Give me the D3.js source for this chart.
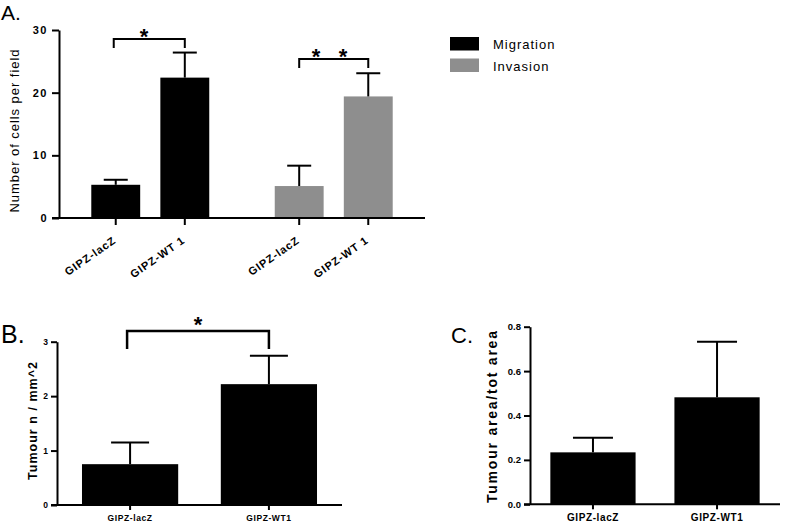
<!DOCTYPE html>
<html><head><meta charset="utf-8">
<script src="https://cdn.jsdelivr.net/npm/d3@7"></script>
<style>body{margin:0;background:#fff}svg{font-family:"Liberation Sans",Arial,sans-serif}</style>
</head><body><svg id="c" width="787" height="525"></svg>
<script>
// Panel A data
const groupsA = ["Migration", "Invasion"];
const catsA = ["GIPZ-lacZ", "GIPZ-WT1"];
const migrationVals = [5.3, 22.4];
const migrationErr = [6.1, 26.4];
const invasionVals = [5.1, 19.4];
const invasionErr = [8.35, 23.1];
const ticksA = [0, 10, 20, 30];
const colorsA = {Migration: "#000000", Invasion: "#8e8e8e"};
// Panel B data
const catsB = ["GIPZ-lacZ", "GIPZ-WT1"];
const valsB = [0.75, 2.22];
const errB = [1.15, 2.74];
const ticksB = [0, 1, 2, 3];
// Panel C data
const catsC = ["GIPZ-lacZ", "GIPZ-WT1"];
const valsC = [0.234, 0.482];
const errC = [0.30, 0.732];
const ticksC = [0, 0.2, 0.4, 0.6, 0.8];

const svg = d3.select("#c");
const SW = 2;

function errBar(g, x, yTop, yErr, cap) {
  g.append("line").attr("x1", x).attr("x2", x).attr("y1", yTop).attr("y2", yErr)
    .attr("stroke", "#000").attr("stroke-width", SW);
  g.append("line").attr("x1", x - cap/2).attr("x2", x + cap/2).attr("y1", yErr).attr("y2", yErr)
    .attr("stroke", "#000").attr("stroke-width", SW);
}
function styleAxis(g) {
  g.selectAll("path.domain").attr("stroke", "#000").attr("stroke-width", SW);
  g.selectAll(".tick line").attr("stroke", "#000").attr("stroke-width", SW);
}

// ---------- Panel A ----------
{
  const y = d3.scaleLinear().domain([0, 30]).range([218, 30]);
  const x0 = d3.scaleBand().domain(groupsA).range([59, 425]).paddingInner(0.357).paddingOuter(0.176);
  const x1 = d3.scaleBand().domain(catsA).range([0, x0.bandwidth()]).paddingInner(0.292).paddingOuter(0);
  const g = svg.append("g");
  const data = [
    {grp: "Migration", vals: migrationVals, errs: migrationErr},
    {grp: "Invasion", vals: invasionVals, errs: invasionErr}
  ];
  data.forEach(d => {
    catsA.forEach((c, i) => {
      const bx = x0(d.grp) + x1(c);
      g.append("rect").attr("x", bx).attr("y", y(d.vals[i])).attr("width", x1.bandwidth())
        .attr("height", y(0) - y(d.vals[i])).attr("fill", colorsA[d.grp]);
      errBar(g, bx + x1.bandwidth()/2, y(d.vals[i]), y(d.errs[i]), 24);
    });
  });
  // y axis
  const ya = g.append("g").attr("transform", "translate(59,0)")
    .call(d3.axisLeft(y).tickValues(ticksA).tickSize(7).tickPadding(4).tickSizeOuter(0));
  styleAxis(ya);
  ya.selectAll("text").attr("font-size", 11).attr("font-weight", "bold").attr("letter-spacing", 1.5).attr("fill", "#000");
  // x axis line with ticks
  const xs = [];
  groupsA.forEach(gr => catsA.forEach(c => xs.push({gr, c, x: x0(gr) + x1(c) + x1.bandwidth()/2})));
  g.append("line").attr("x1", 52).attr("x2", 425).attr("y1", 218).attr("y2", 218).attr("stroke", "#000").attr("stroke-width", SW);
  xs.forEach(t => {
    g.append("line").attr("x1", t.x).attr("x2", t.x).attr("y1", 218).attr("y2", 225).attr("stroke", "#000").attr("stroke-width", SW);
    g.append("text").attr("transform", `translate(${t.x + 1},${242}) rotate(-35)`)
      .attr("text-anchor", "end").attr("font-size", 11).attr("font-weight", "bold").attr("letter-spacing", 0.9)
      .text(t.c.replace("WT1", "WT 1"));
  });
  // y label
  g.append("text").attr("transform", "translate(19,131) rotate(-90)").attr("text-anchor", "middle")
    .attr("font-size", 13).attr("textLength", 163).attr("lengthAdjust", "spacing").text("Number of cells per field");
  // panel letter
  g.append("text").attr("x", 1).attr("y", 20).attr("font-size", 21).text("A.");
  // brackets
  const br = (xa, xb, yTop, legY, stars, starY) => {
    g.append("path").attr("d", `M${xa},${legY}V${yTop}H${xb}V${legY}`).attr("fill", "none")
      .attr("stroke", "#000").attr("stroke-width", SW);
    stars.forEach(sx => g.append("text").attr("x", sx).attr("y", starY).attr("text-anchor", "middle")
      .attr("font-size", 22).attr("font-weight", "bold").text("*"));
  };
  br(xs[0].x - 2, xs[1].x, 39, 48, [144], 44);
  br(xs[2].x, xs[3].x, 59, 68, [316, 343], 64);
  // legend
  const lg = svg.append("g");
  groupsA.forEach((gr, i) => {
    lg.append("rect").attr("x", 450).attr("y", 37 + i*21.5).attr("width", 29).attr("height", 13.5).attr("fill", colorsA[gr]);
    lg.append("text").attr("x", 493).attr("y", 49 + i*21.5).attr("font-size", 13).attr("letter-spacing", 1).text(gr);
  });
}

// ---------- Panel B / C helper ----------
function smallPanel(opt) {
  const y = d3.scaleLinear().domain(opt.domain).range([opt.y0, opt.y1]);
  const x = d3.scaleBand().domain(opt.cats).range([opt.ax, opt.xEnd]).paddingInner(opt.pi).paddingOuter(opt.po);
  const g = svg.append("g");
  opt.cats.forEach((c, i) => {
    g.append("rect").attr("x", x(c)).attr("y", y(opt.vals[i])).attr("width", x.bandwidth())
      .attr("height", y(0) - y(opt.vals[i])).attr("fill", "#000");
    errBar(g, x(c) + x.bandwidth()/2, y(opt.vals[i]), y(opt.errs[i]), opt.cap);
  });
  const ya = g.append("g").attr("transform", `translate(${opt.ax},0)`)
    .call(d3.axisLeft(y).tickValues(opt.ticks).tickFormat(opt.fmt).tickSize(6).tickPadding(3).tickSizeOuter(0));
  styleAxis(ya);
  ya.selectAll("text").attr("font-size", opt.tickSize).attr("font-weight", "bold").attr("fill", "#000");
  const xa = g.append("g").attr("transform", `translate(0,${opt.y0})`)
    .call(d3.axisBottom(x).tickSize(5).tickPadding(5).tickSizeOuter(0));
  styleAxis(xa);
  xa.select("path.domain").attr("d", `M${opt.ax - 6},0H${opt.xEnd}`);
  xa.selectAll("text").attr("font-size", opt.xSize).attr("font-weight", "bold").attr("fill", "#000").attr("letter-spacing", 0.6);
  g.append("text").attr("transform", `translate(${opt.labX},${opt.labY}) rotate(-90)`).attr("text-anchor", "middle")
    .attr("font-size", opt.labSize).attr("font-weight", "bold")
    .attr("textLength", opt.labLen).attr("lengthAdjust", "spacing").text(opt.ylabel);
  g.append("text").attr("x", opt.letterX).attr("y", opt.letterY).attr("font-size", opt.letterSize).text(opt.letter);
  return {g, x, y};
}

// Panel B
{
  const p = smallPanel({domain: [0, 3], y0: 505, y1: 341.7, ax: 57, xEnd: 342, cats: catsB, vals: valsB, errs: errB,
    pi: 0.307, po: 0.18, cap: 38, ticks: ticksB, fmt: d3.format("d"), tickSize: 8.5, xSize: 8.5, ylabel: "Tumour n / mm^2",
    labX: 36.5, labY: 421, labSize: 12.5, labLen: 118, letter: "B.", letterX: 1, letterY: 343, letterSize: 25});
  const xa = p.x(catsB[0]) + p.x.bandwidth()/2 - 3, xb = p.x(catsB[1]) + p.x.bandwidth()/2;
  p.g.append("path").attr("d", `M${xa},349V331H${xb}V349`).attr("fill", "none").attr("stroke", "#000").attr("stroke-width", 2.5);
  p.g.append("text").attr("x", (xa + xb)/2).attr("y", 332).attr("text-anchor", "middle").attr("font-size", 22).attr("font-weight", "bold").text("*");
}
// Panel C
{
  smallPanel({domain: [0, 0.8], y0: 504.3, y1: 326.7, ax: 530, xEnd: 780, cats: catsC, vals: valsC, errs: errC,
    pi: 0.313, po: 0.164, cap: 40, ticks: ticksC, fmt: d3.format(".1f"), tickSize: 9.5, xSize: 10, ylabel: "Tumour area/tot area",
    labX: 497, labY: 417, labSize: 14, labLen: 172, letter: "C.", letterX: 451, letterY: 343, letterSize: 22});
}
</script></body></html>
